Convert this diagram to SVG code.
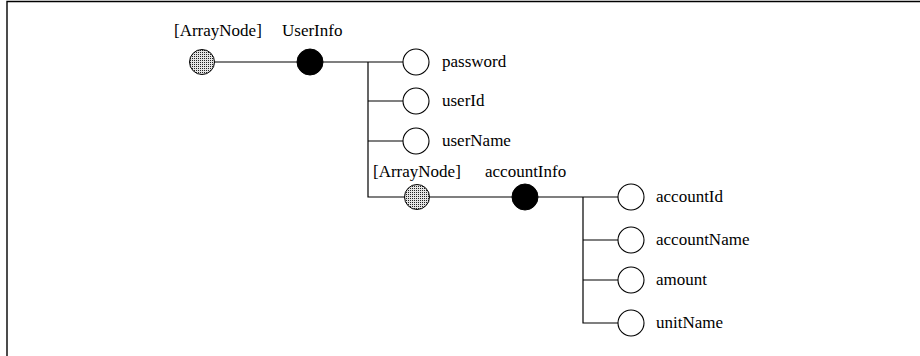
<svg xmlns="http://www.w3.org/2000/svg" width="920" height="356" viewBox="0 0 920 356">
  <style>
    .lbl { font-family: "Liberation Serif", "Times New Roman", serif; font-size: 17px; fill: #000; }
    .wire { fill: none; stroke: #000; stroke-width: 1.2; }
    .leaf { fill: #fff; stroke: #000; stroke-width: 1.1; }
    .obj { fill: #000; stroke: #000; stroke-width: 1; }
    .arr { fill: url(#stipple); stroke: #000; stroke-width: 1; }
  </style>
  <defs>
    <pattern id="stipple" width="2" height="2" patternUnits="userSpaceOnUse">
      <rect width="2" height="2" fill="#e4e4e4"/>
      <rect width="1" height="1" fill="#222"/>
    </pattern>
  </defs>

  <rect width="920" height="356" fill="#fff"/>
  <!-- outer frame (top and left edges) -->
  <path d="M7,356 V1.5 H920" fill="none" stroke="#000" stroke-width="1.4"/>

  <g id="connectors">
    <line class="wire" x1="215" y1="62" x2="297" y2="62"/>
    <line class="wire" x1="323" y1="62" x2="403" y2="62"/>
    <path class="wire" d="M368,62 V197 H404"/>
    <line class="wire" x1="368" y1="101" x2="403" y2="101"/>
    <line class="wire" x1="368" y1="141" x2="403" y2="141"/>
    <line class="wire" x1="430" y1="197" x2="512" y2="197"/>
    <line class="wire" x1="538" y1="197" x2="618" y2="197"/>
    <path class="wire" d="M583,197 V323 H618"/>
    <line class="wire" x1="583" y1="240" x2="618" y2="240"/>
    <line class="wire" x1="583" y1="280" x2="618" y2="280"/>
  </g>

  <g id="arraynode-root">
    <circle class="arr" cx="202" cy="62" r="12.5"/>
    <text class="lbl" x="174" y="36">[ArrayNode]</text>
  </g>
  <g id="userinfo">
    <circle class="obj" cx="310" cy="62" r="13"/>
    <text class="lbl" x="282" y="36">UserInfo</text>
  </g>
  <g id="password">
    <circle class="leaf" cx="416" cy="62" r="13"/>
    <text class="lbl" x="442" y="67">password</text>
  </g>
  <g id="userid">
    <circle class="leaf" cx="416" cy="101" r="13"/>
    <text class="lbl" x="442" y="106">userId</text>
  </g>
  <g id="username">
    <circle class="leaf" cx="416" cy="141" r="13"/>
    <text class="lbl" x="442" y="146">userName</text>
  </g>
  <g id="arraynode-account">
    <circle class="arr" cx="417" cy="197" r="12.5"/>
    <text class="lbl" x="373" y="177">[ArrayNode]</text>
  </g>
  <g id="accountinfo">
    <circle class="obj" cx="525" cy="197" r="13"/>
    <text class="lbl" x="485" y="177">accountInfo</text>
  </g>
  <g id="accountid">
    <circle class="leaf" cx="631" cy="197" r="13"/>
    <text class="lbl" x="656" y="202">accountId</text>
  </g>
  <g id="accountname">
    <circle class="leaf" cx="631" cy="240" r="13"/>
    <text class="lbl" x="656" y="245">accountName</text>
  </g>
  <g id="amount">
    <circle class="leaf" cx="631" cy="280" r="13"/>
    <text class="lbl" x="656" y="285">amount</text>
  </g>
  <g id="unitname">
    <circle class="leaf" cx="631" cy="323" r="13"/>
    <text class="lbl" x="656" y="328">unitName</text>
  </g>
</svg>
